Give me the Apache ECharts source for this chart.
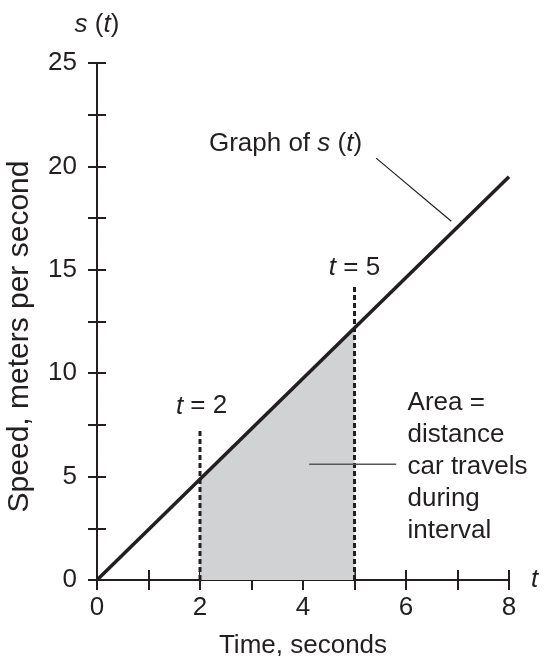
<!DOCTYPE html>
<html>
<head>
<meta charset="utf-8">
<script src="https://cdn.jsdelivr.net/npm/echarts@6/dist/echarts.min.js"></script>
<style>
html,body{margin:0;padding:0;background:#fff;}
#chart{width:544px;height:656px;}
</style>
</head>
<body>
<div id="chart"></div>
<script>
// ---- data ----
const lineT = [0, 8];
const lineS = [0, 19.5];
const areaT = [2, 5];
const areaS = [4.9, 12.2];
const markerT = [2, 5];
const markerTop = [7.2, 14.2];
const xTickLabels = ['0', '', '2', '', '4', '', '6', '', '8'];
const yTickLabels = ['0', '', '5', '', '10', '', '15', '', '20', '', '25'];
const graphLeaderT = [5.42, 6.88];
const graphLeaderS = [20.4, 17.35];
const areaLeaderT = [4.12, 5.81];
const areaLeaderS = [5.6, 5.6];

const INK = '#231f20';
const FONT = 'Liberation Sans, Arial, Helvetica, sans-serif';
const FS = 26;

const chart = echarts.init(document.getElementById('chart'), null, {renderer: 'canvas'});

function pairs(a, b) { return a.map((v, i) => [v, b[i]]); }

const baseX = {
  type: 'value', min: 0, max: 8, interval: 1, gridIndex: 0, position: 'bottom',
  splitLine: {show: false}
};
const baseY = {
  type: 'value', min: 0, max: 25, interval: 2.5, gridIndex: 0, position: 'left',
  splitLine: {show: false}
};

const option = {
  animation: false,
  backgroundColor: '#fff',
  textStyle: {fontFamily: FONT, color: INK},
  grid: {left: 97, right: 35, top: 63, bottom: 76, containLabel: false, outerBoundsMode: 'none'},
  xAxis: [
    Object.assign({}, baseX, {
      axisLine: {show: true, lineStyle: {color: INK, width: 2}},
      axisTick: {show: true, inside: false, length: 10, lineStyle: {color: INK, width: 2}},
      axisLabel: {
        show: true, margin: 15, color: INK, fontFamily: FONT, fontSize: FS,
        formatter: (v) => xTickLabels[Math.round(v)] || ''
      },
      name: 't', nameLocation: 'end', nameGap: 22,
      nameTextStyle: {fontFamily: FONT, fontSize: FS, fontStyle: 'italic', color: INK, verticalAlign: 'middle'}
    }),
    Object.assign({}, baseX, {
      axisLine: {show: false},
      axisTick: {show: true, inside: true, length: 10, lineStyle: {color: INK, width: 2}},
      axisLabel: {show: false},
      name: 'Time, seconds', nameLocation: 'middle', nameGap: 53,
      nameTextStyle: {fontFamily: FONT, fontSize: FS, color: INK}
    })
  ],
  yAxis: [
    Object.assign({}, baseY, {
      axisLine: {show: true, lineStyle: {color: INK, width: 2}},
      axisTick: {show: true, inside: false, length: 9, lineStyle: {color: INK, width: 2}},
      axisLabel: {
        show: true, margin: 20, color: INK, fontFamily: FONT, fontSize: FS,
        formatter: (v) => yTickLabels[Math.round(v / 2.5)] || ''
      },
      name: '{i|s} ({i|t})', nameLocation: 'end', nameGap: 25,
      nameTextStyle: {
        fontFamily: FONT, fontSize: FS, color: INK,
        rich: {i: {fontFamily: FONT, fontSize: FS, fontStyle: 'italic', color: INK}}
      }
    }),
    Object.assign({}, baseY, {
      axisLine: {show: false},
      axisTick: {show: true, inside: true, length: 9, lineStyle: {color: INK, width: 2}},
      axisLabel: {show: false},
      name: 'Speed, meters per second', nameLocation: 'middle', nameGap: 62, nameRotate: 90,
      nameTextStyle: {fontFamily: FONT, fontSize: 30, color: INK, padding: [0, 30, 0, 0]}
    })
  ],
  series: [
    {
      type: 'line', xAxisIndex: 0, yAxisIndex: 0, z: 1,
      data: pairs(areaT, areaS), symbol: 'none',
      lineStyle: {width: 0, opacity: 0},
      areaStyle: {color: '#d1d2d4', opacity: 1}
    },
    {
      type: 'line', xAxisIndex: 0, yAxisIndex: 0, z: 3,
      data: [[markerT[0], 0], [markerT[0], markerTop[0]]], symbol: 'none',
      lineStyle: {color: INK, width: 3, type: [5, 3]}
    },
    {
      type: 'line', xAxisIndex: 0, yAxisIndex: 0, z: 3,
      data: [[markerT[1], 0], [markerT[1], markerTop[1]]], symbol: 'none',
      lineStyle: {color: INK, width: 3, type: [5, 3]}
    },
    {
      type: 'line', xAxisIndex: 0, yAxisIndex: 0, z: 4,
      data: pairs(lineT, lineS), symbol: 'none',
      lineStyle: {color: INK, width: 3.5}
    },
    {
      type: 'line', xAxisIndex: 0, yAxisIndex: 0, z: 4,
      data: pairs(graphLeaderT, graphLeaderS), symbol: 'none',
      lineStyle: {color: INK, width: 1.2}
    },
    {
      type: 'line', xAxisIndex: 0, yAxisIndex: 0, z: 4,
      data: pairs(areaLeaderT, areaLeaderS), symbol: 'none',
      lineStyle: {color: '#555', width: 1.5}
    }
  ]
};
chart.setOption(option);

function px(t, s) { return chart.convertToPixel({xAxisIndex: 0, yAxisIndex: 0}, [t, s]); }

const rich = {i: {fontFamily: FONT, fontSize: FS, fontStyle: 'italic', fill: INK}};
const pGraph = px(3.66, 21.1);
const pT2 = px(2.03, 8.4);
const pT5 = px(5.0, 15.1);
const pArea = px(6.03, 5.45);

chart.setOption({
  graphic: [
    {type: 'text', x: pGraph[0], y: pGraph[1], style: {
      text: 'Graph of {i|s} ({i|t})', font: FS + 'px ' + FONT, fill: INK,
      align: 'center', verticalAlign: 'middle', rich: rich}},
    {type: 'text', x: pT2[0], y: pT2[1], style: {
      text: '{i|t} = 2', font: FS + 'px ' + FONT, fill: INK,
      align: 'center', verticalAlign: 'middle', rich: rich}},
    {type: 'text', x: pT5[0], y: pT5[1], style: {
      text: '{i|t} = 5', font: FS + 'px ' + FONT, fill: INK,
      align: 'center', verticalAlign: 'middle', rich: rich}},
    {type: 'text', x: pArea[0], y: pArea[1], style: {
      text: 'Area =\ndistance\ncar travels\nduring\ninterval', font: FS + 'px ' + FONT, fill: INK,
      align: 'left', verticalAlign: 'middle', lineHeight: 32}}
  ]
});
</script>
</body>
</html>
